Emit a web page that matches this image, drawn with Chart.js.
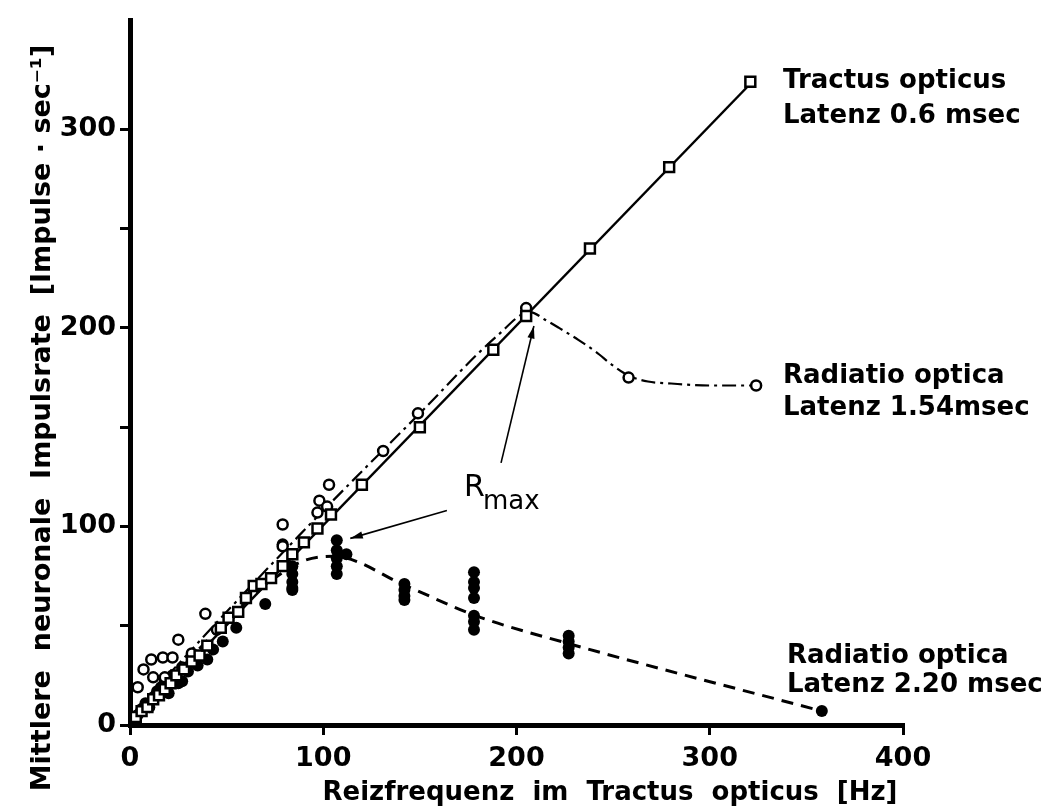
<!DOCTYPE html>
<html>
<head>
<meta charset="utf-8">
<script src="https://cdn.jsdelivr.net/npm/chart.js@4.4.0/dist/chart.umd.min.js"></script>
<style>
  html, body { margin: 0; padding: 0; background: #fff; }
  canvas { display: block; }
</style>
</head>
<body>
<canvas id="impulsChart" width="1042" height="812"></canvas>
<script>
// Tractus opticus, Latenz 0.6 msec (open squares)
var tractusX = [3, 6, 9, 12, 15, 18, 21, 24, 28, 32, 36, 40, 47, 51, 56, 60, 64, 68, 73, 79, 84, 90, 97, 104, 120, 150, 188, 205, 238, 279, 321];
var tractusY = [4, 7, 9, 13, 15, 18, 21, 25, 28, 32, 35, 40, 49, 54, 57, 64, 70, 71, 74, 80, 86, 92, 99, 106, 121, 150, 189, 206, 240, 281, 324];

// Radiatio optica, Latenz 1.54 msec (open circles)
var rad154X = [4, 7, 11, 12, 17, 18, 22, 25, 27, 32, 39, 45, 79, 79, 97, 98, 102, 103, 131, 149, 205, 258, 324];
var rad154Y = [19, 28, 33, 24, 34, 24, 34, 43, 29, 36, 56, 48, 101, 90, 107, 113, 110, 121, 138, 157, 210, 175, 171];

// Radiatio optica, Latenz 2.20 msec (filled dots)
var rad220X = [2, 4, 6, 8, 10, 12, 14, 16, 18, 20, 22, 25, 27, 30, 35, 40, 43, 48, 55, 70, 79, 84, 84, 84, 84, 84, 107, 107, 107, 107, 107, 112, 142, 142, 142, 142, 178, 178, 178, 178, 178, 178, 178, 227, 227, 227, 227, 358];
var rad220Y = [3, 5, 8, 11, 9, 14, 17, 19, 22, 16, 25, 21, 22, 27, 30, 33, 38, 42, 49, 61, 91, 80, 76, 72, 69, 68, 93, 88, 84, 80, 76, 86, 71, 68, 65, 63, 77, 72, 69, 64, 55, 52, 48, 45, 42, 39, 36, 7];

// drawn curves through the data
var tractusLineX = [0, 322];
var tractusLineY = [0, 324];
var rad154LineX = [0, 50, 100, 150, 190, 207, 215, 222, 232, 241, 250, 258, 268, 280, 300, 324];
var rad154LineY = [4, 57, 108, 157, 196, 208, 204, 200, 194, 188, 181, 176, 173, 172, 171, 171];
var rad220LineX = [0, 84, 105, 143, 179, 227, 358];
var rad220LineY = [2, 80, 85, 70, 55, 41, 7];

// axis ticks
var xTicks = [0, 100, 200, 300, 400];
var yTicks = [0, 50, 100, 150, 200, 250, 300];
var yLabelled = [0, 100, 200, 300];

function toPoints(xs, ys) {
    return xs.map(function(x, i) { return { x: x, y: ys[i] }; });
}

var FONT = '"DejaVu Sans", sans-serif';

// text, R_max arrows and axis titles
var annotations = {
    id: 'annotations',
    afterDraw: function(chart) {
        var c = chart.ctx;
        var xs = chart.scales.x, ys = chart.scales.y;
        c.save();
        c.fillStyle = '#000';
        c.strokeStyle = '#000';

        // series labels
        c.font = 'bold 26px ' + FONT;
        c.textAlign = 'left';
        c.textBaseline = 'alphabetic';
        c.fillText('Tractus opticus', 783, 88);
        c.fillText('Latenz 0.6 msec', 783, 123);
        c.fillText('Radiatio optica', 783, 383);
        c.fillText('Latenz 1.54msec', 783, 415);
        c.fillText('Radiatio optica', 787, 663);
        c.fillText('Latenz 2.20 msec', 787, 692);

        // R max
        c.font = '30px ' + FONT;
        c.fillText('R', 464, 496);
        c.font = '26px ' + FONT;
        c.fillText('max', 483, 509);

        function arrow(x0, y0, x1, y1) {
            var px0 = xs.getPixelForValue(x0), py0 = ys.getPixelForValue(y0);
            var px1 = xs.getPixelForValue(x1), py1 = ys.getPixelForValue(y1);
            var a = Math.atan2(py1 - py0, px1 - px0);
            c.lineWidth = 1.6;
            c.beginPath();
            c.moveTo(px0, py0);
            c.lineTo(px1, py1);
            c.stroke();
            c.beginPath();
            c.moveTo(px1, py1);
            c.lineTo(px1 - 13 * Math.cos(a - 0.28), py1 - 13 * Math.sin(a - 0.28));
            c.lineTo(px1 - 13 * Math.cos(a + 0.28), py1 - 13 * Math.sin(a + 0.28));
            c.closePath();
            c.fill();
        }
        arrow(192, 132, 209, 201);
        arrow(164, 108, 114, 94);

        // axis titles, squeezed to the width they take in the figure
        function fitText(txt, cx, cy, w) {
            var m = c.measureText(txt).width;
            c.save();
            c.translate(cx, cy);
            c.scale(Math.min(1, w / m), 1);
            c.textAlign = 'center';
            c.fillText(txt, 0, 0);
            c.restore();
        }
        c.font = 'bold 27px ' + FONT;
        fitText('Reizfrequenz  im  Tractus  opticus  [Hz]', 610, 800, 575);

        c.save();
        c.translate(50, 418);
        c.rotate(-Math.PI / 2);
        fitText('Mittlere  neuronale  Impulsrate  [Impulse · sec\u207B\u00B9]', 0, 0, 770);
        c.restore();

        c.restore();
    }
};

var ctx = document.getElementById('impulsChart').getContext('2d');
var tickFont = { family: FONT, size: 27, weight: 'bold' };

var myChart = new Chart(ctx, {
    type: 'scatter',
    data: {
        datasets: [{
            label: 'Tractus opticus',
            data: toPoints(tractusX, tractusY),
            pointStyle: 'rect',
            pointRadius: 7,
            pointBackgroundColor: '#fff',
            pointBorderColor: '#000',
            pointBorderWidth: 2.5,
            order: 1
        }, {
            label: 'Radiatio optica 1.54',
            data: toPoints(rad154X, rad154Y),
            pointStyle: 'circle',
            pointRadius: 5,
            pointBackgroundColor: '#fff',
            pointBorderColor: '#000',
            pointBorderWidth: 2.5,
            order: 2
        }, {
            label: 'Radiatio optica 2.20',
            data: toPoints(rad220X, rad220Y),
            pointStyle: 'circle',
            pointRadius: 6,
            pointBackgroundColor: '#000',
            pointBorderColor: '#000',
            pointBorderWidth: 0,
            order: 3
        }, {
            label: 'Tractus line',
            data: toPoints(tractusLineX, tractusLineY),
            showLine: true,
            pointRadius: 0,
            borderColor: '#000',
            borderWidth: 2.5,
            order: 4
        }, {
            label: 'Radiatio 1.54 line',
            data: toPoints(rad154LineX, rad154LineY),
            showLine: true,
            pointRadius: 0,
            borderColor: '#000',
            borderWidth: 2.2,
            borderDash: [14, 5, 3, 5],
            cubicInterpolationMode: 'monotone',
            order: 5
        }, {
            label: 'Radiatio 2.20 line',
            data: toPoints(rad220LineX, rad220LineY),
            showLine: true,
            pointRadius: 0,
            borderColor: '#000',
            borderWidth: 3,
            borderDash: [12, 8],
            cubicInterpolationMode: 'monotone',
            order: 6
        }]
    },
    options: {
        responsive: false,
        animation: false,
        layout: { padding: { top: 17, right: 139, left: 0, bottom: 0 } },
        plugins: {
            legend: { display: false },
            tooltip: { enabled: false }
        },
        scales: {
            x: {
                type: 'linear',
                min: 0,
                max: 400,
                afterFit: function(s) { s.height = 87; },
                afterBuildTicks: function(s) { s.ticks = xTicks.map(function(v) { return { value: v }; }); },
                ticks: { color: '#000', font: tickFont, padding: 8 },
                grid: { drawOnChartArea: false, color: '#000', lineWidth: 3, tickLength: 10 },
                border: { color: '#000', width: 5 }
            },
            y: {
                type: 'linear',
                min: 0,
                max: 355,
                afterFit: function(s) { s.width = 130; },
                afterBuildTicks: function(s) { s.ticks = yTicks.map(function(v) { return { value: v }; }); },
                ticks: {
                    color: '#000',
                    font: tickFont,
                    padding: 4,
                    callback: function(v) { return yLabelled.indexOf(v) >= 0 ? v : ''; }
                },
                grid: { drawOnChartArea: false, color: '#000', lineWidth: 3, tickLength: 10 },
                border: { color: '#000', width: 5 }
            }
        }
    },
    plugins: [annotations]
});
</script>
</body>
</html>
